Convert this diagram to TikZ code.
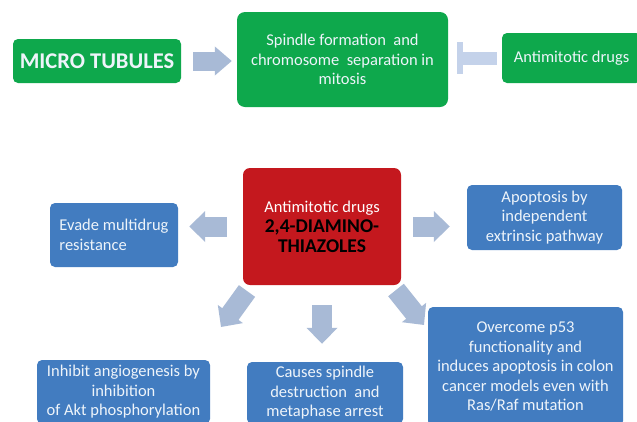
\documentclass[tikz,border=0pt]{standalone}
\usepackage{fontspec}
\setmainfont{Carlito}
\usetikzlibrary{arrows.meta,calc}
\definecolor{grn}{RGB}{14,168,76}
\definecolor{blu}{RGB}{66,124,192}
\definecolor{rd}{RGB}{196,24,30}
\definecolor{arr}{RGB}{168,186,214}
\definecolor{tbar}{RGB}{196,210,234}
\definecolor{txt}{RGB}{238,244,250}
\tikzset{
  box/.style={rounded corners=5pt, inner sep=2pt, align=center, text=txt,
    font=\fontsize{16.5}{19.5}\selectfont},
  gbox/.style={box, fill=grn},
  bbox/.style={box, fill=blu},
  rbox/.style={box, fill=rd, rounded corners=7pt},
  fat/.style={draw=arr, line width=20pt, -{Triangle[length=16pt,width=30pt]}},
  tline/.style={draw=tbar, line width=13pt, -{Rectangle[length=6pt,width=32pt]}}
}
\begin{document}
\begin{tikzpicture}[x=1pt,y=-1pt]
\useasboundingbox (0,0) rectangle (637,421);
\clip (0,0) rectangle (637,421);
\fill[white] (0,0) rectangle (637,421);
% top row
\node[gbox, minimum width=168pt, minimum height=44pt, font=\bfseries\fontsize{22.5}{26}\selectfont] (mt) at (97,61) {MICRO TUBULES};
\node[gbox, rounded corners=8pt, minimum width=211pt, minimum height=95pt] (sp) at (342.5,59.5)
  {Spindle formation\ \ and\\chromosome\ \ separation in\\mitosis};
\node[gbox, minimum width=139pt, minimum height=50pt] (am) at (571.5,58) {Antimitotic drugs};
\draw[fat, line width=19pt, -{Triangle[length=17pt,width=28pt]}, shorten <=12pt, shorten >=5pt] (mt.east) -- (sp.west |- mt.east);
\draw[tline, shorten <=5pt, shorten >=9pt] (am.west) -- (sp.east |- am.west);
% centre
\node[rbox, minimum width=158pt, minimum height=117pt] (red) at (322,226.5)
  {{\color{white}\fontsize{16.5}{19}\selectfont Antimitotic drugs}\\[1pt]
   {\color{black}\bfseries\fontsize{19.5}{21}\selectfont 2,4-DIAMINO-}\\
   {\color{black}\bfseries\fontsize{19.5}{21}\selectfont THIAZOLES}};
\node[bbox, align=left, minimum width=128pt, minimum height=64pt] (ev) at (114,235)
  {Evade multidrug\\resistance};
\node[bbox, minimum width=155pt, minimum height=65pt] (apo) at (544.5,217.5)
  {Apoptosis by\\independent\\extrinsic pathway};
\node[bbox, minimum width=173pt, minimum height=64pt] (inh) at (123.5,392)
  {Inhibit angiogenesis by\\inhibition\\of Akt phosphorylation};
\node[bbox, minimum width=156pt, minimum height=62pt] (cau) at (325,393)
  {Causes spindle\\destruction\ \ and\\metaphase arrest};
\node[bbox, minimum width=195pt, minimum height=119pt] (ov) at (525.5,366.5)
  {Overcome p53\\functionality and\\induces apoptosis in colon\\cancer models even with\\Ras/Raf mutation};
% arrows
\draw[fat, shorten <=16pt, shorten >=11pt] (red.west) -- (ev.east |- red.west);
\draw[fat, shorten <=12pt, shorten >=17pt] (red.east) -- (apo.west |- red.east);
\draw[fat, shorten <=20pt, shorten >=18pt] (red.south) -- (cau.north -| red.south);
\coordinate (d1a) at (247,291);
\coordinate (d1b) at (221,327);
\coordinate (d2a) at (396,290);
\coordinate (d2b) at (424,325);
\draw[fat] (d1a) -- (d1b);
\draw[fat] (d2a) -- (d2b);
\end{tikzpicture}
\end{document}
